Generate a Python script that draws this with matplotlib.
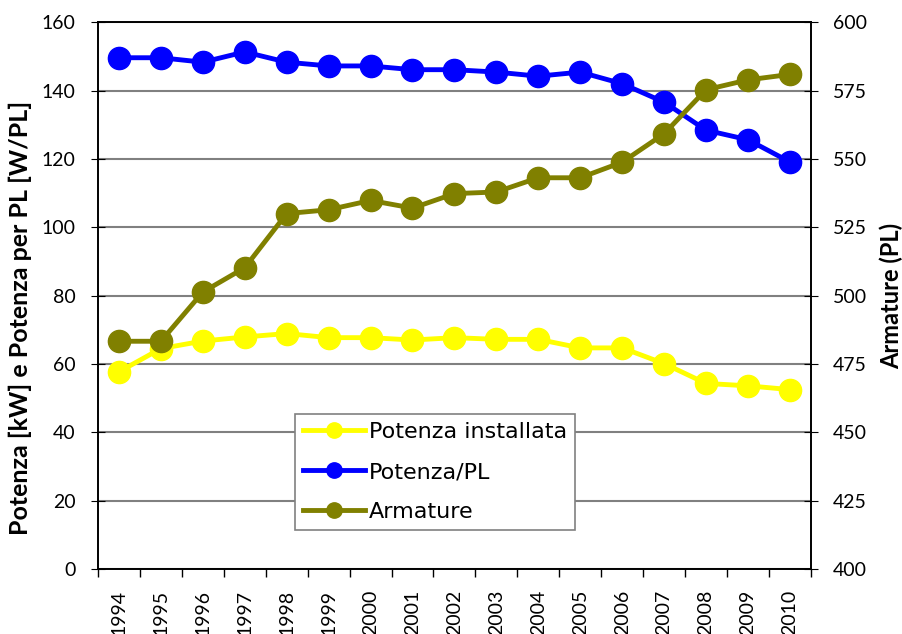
import matplotlib
matplotlib.use('Agg')
import matplotlib.pyplot as plt
import numpy as np

anni = ['1994', '1995', '1996', '1997', '1998', '1999', '2000', '2001', '2002',
        '2003', '2004', '2005', '2006', '2007', '2008', '2009', '2010']
potenza_installata = [57.7, 64.5, 66.7, 67.9, 68.9, 67.7, 67.7, 67.0, 67.7,
                      67.2, 67.2, 64.7, 64.7, 60.1, 54.3, 53.6, 52.5]
potenza_pl = [149.6, 149.6, 148.3, 151.3, 148.3, 147.2, 147.2, 146.1, 146.1,
              145.4, 144.2, 145.4, 142.0, 136.6, 128.4, 125.6, 119.1]
armature = [483.3, 483.3, 501.3, 510.2, 530.0, 531.4, 534.8, 532.0, 537.3,
            537.9, 543.1, 543.1, 548.8, 559.2, 575.3, 578.9, 580.9]

plt.rcParams['font.family'] = ['Lato', 'DejaVu Sans']

fig = plt.figure(figsize=(9.03, 6.34), dpi=100)
ax = fig.add_axes([0.1085, 0.1025, 0.7895, 0.8625])
ax2 = ax.twinx()

x = np.arange(len(anni))
l1, = ax.plot(x, potenza_installata, color='#FFFF00', lw=3.5, marker='o', ms=16,
              label='Potenza installata', zorder=3)
l2, = ax.plot(x, potenza_pl, color='#0000FF', lw=3.5, marker='o', ms=16,
              label='Potenza/PL', zorder=3)
l3, = ax2.plot(x, armature, color='#808000', lw=3.5, marker='o', ms=16,
               label='Armature', zorder=3)

ax.set_xlim(-0.5, len(anni) - 0.5)
ax.set_ylim(0, 160)
ax.set_yticks(np.arange(0, 161, 20))
ax2.set_ylim(400, 600)
ax2.set_yticks(np.arange(400, 601, 25))

ax.set_xticks(x)
ax.set_xticklabels(anni, rotation=90, fontsize=14)
ax.set_xticks(np.arange(-0.5, len(anni), 1), minor=True)
ax.tick_params(axis='x', which='major', length=0, pad=15)
ax.tick_params(axis='x', which='minor', length=6, direction='out', width=1)
ax.tick_params(axis='y', direction='inout', length=10, labelsize=14, pad=11)
ax2.tick_params(axis='y', direction='inout', length=10, labelsize=14, pad=11)

ax.yaxis.grid(True, color='#808080', lw=1.5)
ax.set_axisbelow(True)
for a in (ax, ax2):
    for s in a.spines.values():
        s.set_linewidth(1.2)
        s.set_color('black')

ax.set_ylabel('Potenza [kW] e Potenza per PL [W/PL]', fontsize=18, fontweight='bold')
ax.yaxis.set_label_coords(-0.092, 0.459)
ax2.set_ylabel('Armature (PL)', fontsize=17, fontweight='bold')
ax2.yaxis.set_label_coords(1.097, 0.5)

leg = ax2.legend(handles=[l1, l2, l3], loc='lower left', bbox_to_anchor=(0.276, 0.0713),
                 prop={'family': 'DejaVu Sans', 'size': 16},
                 frameon=True, fancybox=False, edgecolor='#808080', framealpha=1,
                 handlelength=2.8, markerscale=0.69, borderpad=0.35, labelspacing=0.9,
                 handletextpad=0.2, borderaxespad=0)
leg.get_frame().set_linewidth(1.2)

fig.savefig('out.png', dpi=100)
